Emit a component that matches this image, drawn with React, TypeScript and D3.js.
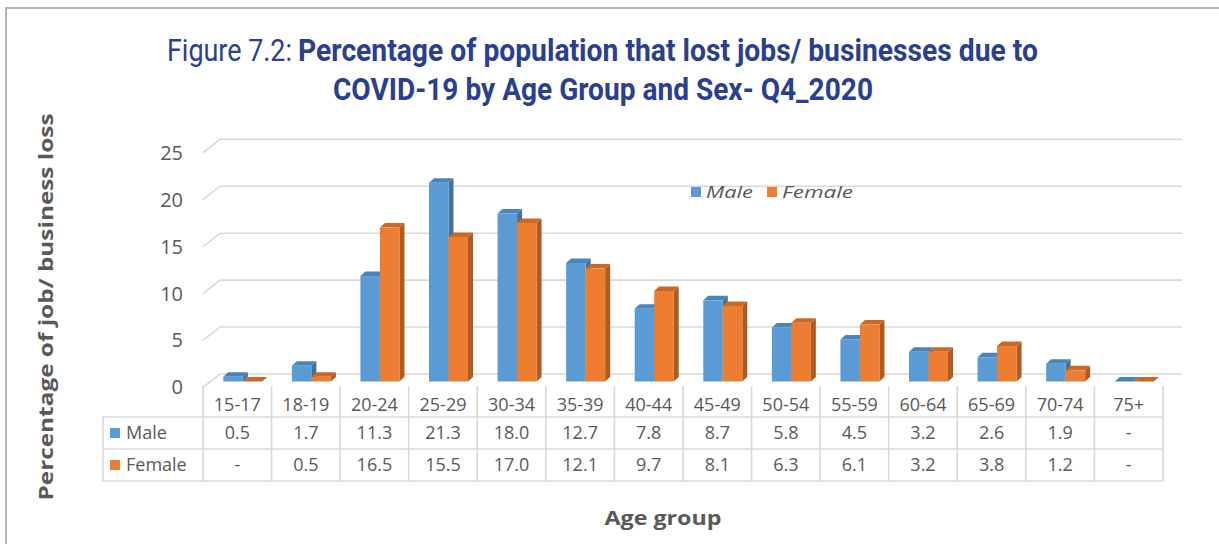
import React from "react";
import * as d3 from "d3";

const categories = ["15-17", "18-19", "20-24", "25-29", "30-34", "35-39", "40-44", "45-49", "50-54", "55-59", "60-64", "65-69", "70-74", "75+"];
const maleValues: (number | null)[] = [0.5, 1.7, 11.3, 21.3, 18.0, 12.7, 7.8, 8.7, 5.8, 4.5, 3.2, 2.6, 1.9, null];
const femaleValues: (number | null)[] = [null, 0.5, 16.5, 15.5, 17.0, 12.1, 9.7, 8.1, 6.3, 6.1, 3.2, 3.8, 1.2, null];
const yTicks = [0, 5, 10, 15, 20, 25];
const seriesNames = ["Male", "Female"];

const W = 1219;
const H = 544;
const TEXT = "#595959";
const GRID = "#d9d9d9";
const TITLE = "#2a3f8e";
const FONT = "'Open Sans', 'DejaVu Sans', sans-serif";

const colors = [
  { front: "#5b9bd5", side: "#41719c", top: "#4b83bb" },
  { front: "#ed7d31", side: "#ae5a21", top: "#c8692a" },
];

export default function App() {
  const x = d3.scaleBand<string>().domain(categories).range([203, 1163]).padding(0);
  const bw = x.bandwidth();
  const yGrid = d3.scaleLinear().domain([0, 25]).range([374, 139.3]);
  const yBar = d3.scaleLinear().domain([0, 25]).range([381.5, 381.5 - 25 * 9.33]);
  const floorDx = -17;
  const floorDy = 13.4;
  const dx = 5;
  const dy = -4.5;
  const barW = 19.5;
  const groupOffset = 5.5;

  const fmt = (v: number | null) => (v === null ? "-" : v.toFixed(1));

  const bars: JSX.Element[] = [];
  categories.forEach((c, i) => {
    const center = (x(c) as number) + bw / 2 + groupOffset;
    [maleValues, femaleValues].forEach((vals, s) => {
      const v = vals[i] ?? 0;
      const x0 = center - barW + s * barW;
      const x1 = x0 + barW;
      const yb = yBar(0);
      const yt = yBar(v);
      const col = colors[s];
      bars.push(
        <g key={`${c}-${s}`}>
          <polygon
            points={`${x1},${yb} ${x1 + dx},${yb + dy} ${x1 + dx},${yt + dy} ${x1},${yt}`}
            fill={col.side}
          />
          <polygon
            points={`${x0},${yt} ${x0 + dx},${yt + dy} ${x1 + dx},${yt + dy} ${x1},${yt}`}
            fill={col.top}
          />
          {v > 0 && <rect x={x0} y={yt} width={barW} height={yb - yt} fill={col.front} />}
        </g>
      );
    });
  });

  const rowY = [433, 465];
  const lineYs = [417, 449, 481];

  return (
    <svg
      width={W}
      height={H}
      style={{ position: "absolute", left: 0, top: 0, background: "#fff" }}
      fontFamily={FONT}
    >
      <rect x={0} y={0} width={W} height={H} fill="#fff" />
      <rect x={6} y={8} width={1300} height={700} fill="none" stroke="#b3b7bb" strokeWidth={2} />

      {/* Title */}
      <text x={167} y={61} fontFamily="'Liberation Sans Narrow', 'Roboto', sans-serif" fontSize={31} fill={TITLE} textLength={125} lengthAdjust="spacingAndGlyphs">
        Figure 7.2:
      </text>
      <text x={298} y={61} fontFamily="'Liberation Sans Narrow', 'Roboto', sans-serif" fontWeight="bold" fontSize={31} fill={TITLE} textLength={740} lengthAdjust="spacingAndGlyphs">
        Percentage of population that lost jobs/ businesses due to
      </text>
      <text x={333} y={100} fontFamily="'Liberation Sans Narrow', 'Roboto', sans-serif" fontWeight="bold" fontSize={31} fill={TITLE} textLength={540} lengthAdjust="spacingAndGlyphs">
        COVID-19 by Age Group and Sex- Q4_2020
      </text>

      {/* Gridlines */}
      {yTicks.map((t) => {
        const y = yGrid(t);
        return (
          <g key={t}>
            <polyline
              points={`${220 + floorDx},${y + floorDy} 220,${y} 1182,${y}`}
              fill="none"
              stroke={GRID}
              strokeWidth={1.6}
            />
            <text x={183} y={y + floorDy} dy="0.35em" textAnchor="end" fontSize={20} fill={TEXT}>
              {t}
            </text>
          </g>
        );
      })}

      {bars}

      {/* Legend */}
      <rect x={691} y={187} width={10} height={10} fill={colors[0].front} />
      <text x={706} y={192} dy="0.35em" fontSize={17} fontStyle="italic" fill={TEXT} textLength={47} lengthAdjust="spacingAndGlyphs">
        {seriesNames[0]}
      </text>
      <rect x={767} y={187} width={10} height={10} fill={colors[1].front} />
      <text x={782} y={192} dy="0.35em" fontSize={17} fontStyle="italic" fill={TEXT} textLength={71} lengthAdjust="spacingAndGlyphs">
        {seriesNames[1]}
      </text>

      {/* Data table */}
      {lineYs.map((y) => (
        <line key={y} x1={103} x2={1163} y1={y} y2={y} stroke={GRID} strokeWidth={1.6} />
      ))}
      <line x1={103} x2={103} y1={417} y2={481} stroke={GRID} strokeWidth={1.6} />
      {d3.range(categories.length + 1).map((i) => {
        const xx = 203 + i * bw;
        return <line key={i} x1={xx} x2={xx} y1={386} y2={481} stroke={GRID} strokeWidth={1.6} />;
      })}
      {categories.map((c) => (
        <text key={c} x={(x(c) as number) + bw / 2} y={405} dy="0.35em" textAnchor="middle" fontSize={18} fill={TEXT}>
          {c}
        </text>
      ))}
      {[maleValues, femaleValues].map((vals, s) => (
        <g key={s}>
          <rect x={110} y={rowY[s] - 5} width={10} height={10} fill={colors[s].front} />
          <text x={126} y={rowY[s]} dy="0.35em" fontSize={18} fill={TEXT}>
            {seriesNames[s]}
          </text>
          {categories.map((c, i) => (
            <text key={c} x={(x(c) as number) + bw / 2} y={rowY[s]} dy="0.35em" textAnchor="middle" fontSize={18} fill={TEXT}>
              {fmt(vals[i])}
            </text>
          ))}
        </g>
      ))}

      {/* Axis titles */}
      <text
        transform="translate(53,307) rotate(-90)"
        textAnchor="middle"
        fontSize={20}
        fontWeight="bold"
        fill={TEXT}
        textLength={387}
        lengthAdjust="spacingAndGlyphs"
      >
        Percentage of job/ business loss
      </text>
      <text x={663} y={525} textAnchor="middle" fontSize={20} fontWeight="bold" fill={TEXT} textLength={117} lengthAdjust="spacingAndGlyphs">
        Age group
      </text>
    </svg>
  );
}
